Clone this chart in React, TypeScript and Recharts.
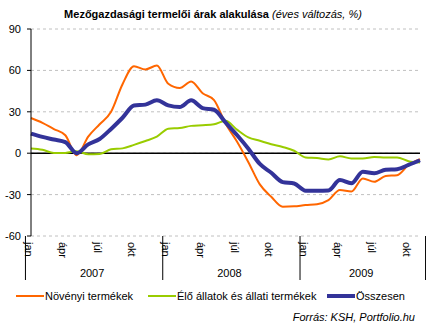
import { LineChart, Line, XAxis, YAxis, CartesianGrid, ReferenceLine } from "recharts";

const monthNames = ["jan", "febr", "márc", "ápr", "máj", "jún", "júl", "aug", "szept", "okt", "nov", "dec"];
const years = ["2007", "2008", "2009"];
// jan 2007 - nov 2009
const periods: string[] = years
  .flatMap((y) => monthNames.map((m) => `${y} ${m}`))
  .slice(0, 35);

const novenyi = [
  25.5, 22, 17.5, 13, -1.5, 12, 21, 30, 50, 63, 60.7, 63.5,
  50.3, 47.2, 52, 43.5, 38.5, 21.5, 8.5, -6.5, -22.6, -31.6, -38.8, -38.5,
  -37.6, -37, -34, -26.7, -27.8, -18.3, -20.7, -16.5, -15.9, -8.5, -4.3,
];
const eloAllatok = [
  3.4, 2.5, 0.2, 0.2, 1.4, -0.7, -0.5, 2.8, 3.5, 6, 8.8, 12,
  17.7, 18.3, 19.8, 20.3, 21, 23.5, 17.1, 11.5, 9, 6.5, 4.5, 1.8,
  -3.1, -3.5, -4.5, -2.3, -3.8, -3.8, -2.7, -3.1, -3.1, -5.8, -6.7,
];
const osszesen = [
  14.2, 11.8, 9.9, 8, 0, 6.4, 10.3, 17.6, 25.7, 34.5, 35.2, 38.3,
  34.7, 33.5, 38.3, 32.7, 31.5, 22.3, 13.2, 3.3, -7.8, -14.2, -21, -22,
  -27.2, -27.2, -27, -19.5, -21.8, -13.5, -14.5, -12, -11.6, -8.5, -5.1,
];
const yTicks = [-60, -30, 0, 30, 60, 90];

const series = [
  { key: "novenyi", name: "Növényi termékek", color: "#FF6600", width: 2 },
  { key: "elo", name: "Élő állatok és állati termékek", color: "#99CC00", width: 2 },
  { key: "ossz", name: "Összesen", color: "#333399", width: 4 },
];

const data = periods.map((p, i) => ({
  period: p,
  novenyi: novenyi[i],
  elo: eloAllatok[i],
  ossz: osszesen[i],
}));

const W = 426;
const H = 336;
const M = { top: 29, right: 6, left: 0, bottom: 50 };
const Y_AXIS_W = 31;
const X_AXIS_H = 50;
const FONT = "'Liberation Sans', Arial, sans-serif";
const band = (W - M.right - Y_AXIS_W) / periods.length;

function MonthTick(props: any) {
  const { x, y, payload } = props;
  const idx = periods.indexOf(payload.value);
  const month = idx % 12;
  const start = x - band / 2;
  const items: any[] = [];
  if (month % 3 === 0) {
    const lx = start + 3.5;
    items.push(
      <text
        key="m"
        x={lx}
        y={y + 6}
        transform={`rotate(90, ${lx}, ${y + 6})`}
        dominantBaseline="central"
        textAnchor="start"
        fontSize={11}
        fontFamily={FONT}
        fill="#000"
      >
        {monthNames[month]}
      </text>
    );
  }
  if (month === 0) {
    const yi = Math.floor(idx / 12);
    const count = periods.filter((p) => p.startsWith(years[yi])).length;
    items.push(<line key="s" x1={start} x2={start} y1={y} y2={y + 44} stroke="#000" />);
    items.push(
      <text key="y" x={start + (count * band) / 2} y={y + 41} textAnchor="middle" fontSize={11} fontFamily={FONT} fill="#000">
        {years[yi]}
      </text>
    );
  }
  if (idx === periods.length - 1) {
    const end = x + band / 2;
    items.push(<line key="e" x1={end} x2={end} y1={y} y2={y + 44} stroke="#000" />);
  }
  return <g>{items}</g>;
}

export default function App() {
  return (
    <div style={{ position: "absolute", left: 0, top: 0, width: W, height: H, background: "#fff", fontFamily: FONT }}>
      <div style={{ position: "absolute", top: 8, left: 0, width: W, textAlign: "center", fontSize: 11, lineHeight: "13px" }}>
        <b>Mezőgazdasági termelői árak alakulása</b> <i>(éves változás, %)</i>
      </div>
      <LineChart width={W} height={H} data={data} margin={M}>
        <CartesianGrid vertical={false} stroke="#c0c0c0" strokeDasharray="3 3" />
        <XAxis
          dataKey="period"
          interval={0}
          tick={<MonthTick />}
          tickLine={false}
          axisLine={false}
          tickSize={0}
          tickMargin={0}
          height={X_AXIS_H}
        />
        <YAxis
          width={Y_AXIS_W}
          domain={[-60, 90]}
          ticks={yTicks}
          interval={0}
          axisLine={{ stroke: "#000" }}
          tickLine={{ stroke: "#000" }}
          tickSize={4}
          tickMargin={6}
          tick={{ fontSize: 11, fill: "#000", fontFamily: FONT }}
        />
        <ReferenceLine y={0} stroke="#000" strokeWidth={1.5} />
        {series.map((s) => (
          <Line
            key={s.key}
            dataKey={s.key}
            name={s.name}
            type="monotone"
            stroke={s.color}
            strokeWidth={s.width}
            dot={false}
            activeDot={false}
            isAnimationActive={false}
          />
        ))}
      </LineChart>
      {series.map((s, i) => (
        <div
          key={s.key}
          style={{
            position: "absolute",
            top: 290,
            left: [16, 148, 327][i],
            display: "flex",
            alignItems: "center",
            fontSize: 11,
            whiteSpace: "nowrap",
          }}
        >
          <span style={{ display: "inline-block", width: 28, height: s.width, background: s.color }} />
          <span style={{ marginLeft: 1 }}>{s.name}</span>
        </div>
      ))}
      <div style={{ position: "absolute", top: 311, right: 11, fontSize: 11, fontStyle: "italic" }}>
        Forrás: KSH, Portfolio.hu
      </div>
    </div>
  );
}
